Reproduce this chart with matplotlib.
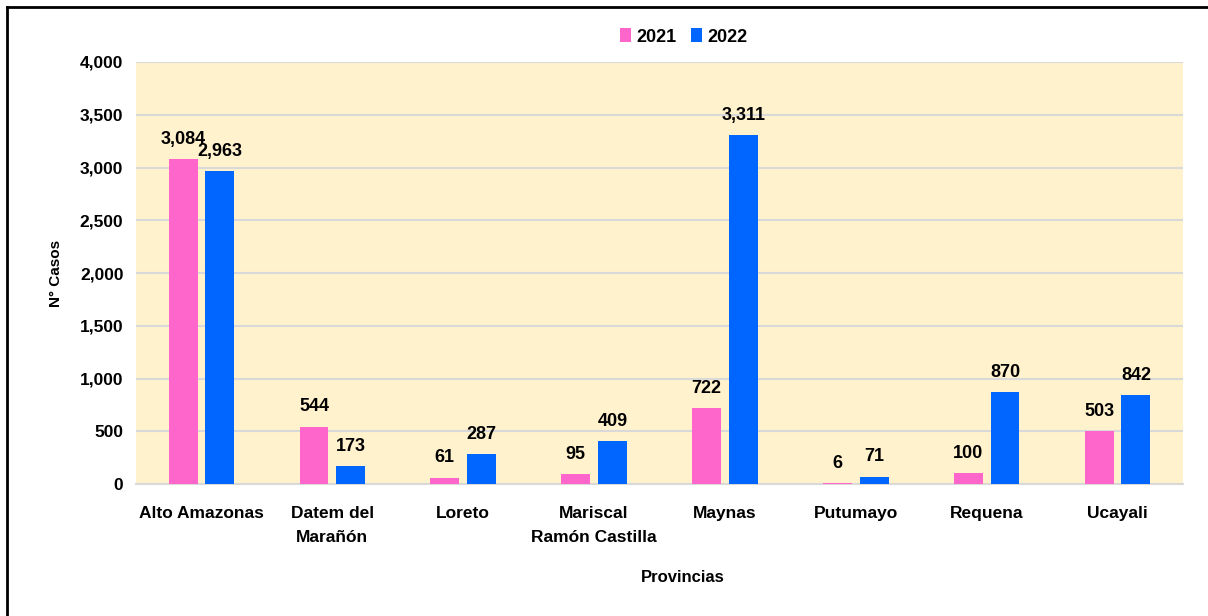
import numpy as np
import matplotlib.pyplot as plt
from matplotlib.ticker import FuncFormatter
from matplotlib.lines import Line2D

plt.rcParams['font.family'] = ['Liberation Sans', 'DejaVu Sans']
plt.rcParams['font.weight'] = 'bold'

provincias = ["Alto Amazonas", "Datem del\nMarañón", "Loreto", "Mariscal\nRamón Castilla",
              "Maynas", "Putumayo", "Requena", "Ucayali"]
casos_2021 = [3084, 544, 61, 95, 722, 6, 100, 503]
casos_2022 = [2963, 173, 287, 409, 3311, 71, 870, 842]
years = ["2021", "2022"]
colors = ["#FF66CC", "#0066FF"]

fig = plt.figure(figsize=(12.08, 6.16), dpi=100)
ax = fig.add_axes([136 / 1208, 1 - 484 / 616, 1047 / 1208, 422 / 616])
ax.set_facecolor("#FFF2CC")

x = np.arange(len(provincias))
w = 0.22
off = 0.14
for vals, col, lab, sgn in zip([casos_2021, casos_2022], colors, years, [-1, 1]):
    bars = ax.bar(x + sgn * off, vals, width=w, color=col, label=lab, zorder=3)
    for b, v in zip(bars, vals):
        ax.annotate(f"{v:,}", (b.get_x() + b.get_width() / 2, v), xytext=(0, 8),
                    textcoords="offset points", ha="center", va="bottom",
                    fontsize=13, fontweight="bold")

ax.set_xlim(-0.5, len(provincias) - 0.5)
ax.set_ylim(0, 4000)
ax.set_yticks(np.arange(0, 4001, 500))
ax.yaxis.set_major_formatter(FuncFormatter(lambda v, p: f"{int(v):,}"))
ax.grid(axis="y", color="#D9D9D9", linewidth=1.5, zorder=0)
ax.set_axisbelow(True)
for s in ["top", "right", "left"]:
    ax.spines[s].set_visible(False)
ax.spines["bottom"].set_color("#D9D9D9")
ax.spines["bottom"].set_linewidth(1.5)
ax.tick_params(axis="x", length=0, labelsize=12.5, pad=16)
ax.tick_params(axis="y", length=0, labelsize=12.5, pad=9)
ax.set_xticks(x)
ax.set_xticklabels(provincias, fontweight="bold", linespacing=1.7)
for t in ax.get_yticklabels():
    t.set_fontweight("bold")

ax.set_ylabel("N° Casos", fontsize=11, fontweight="bold", labelpad=12)
fig.text(683 / 1208, 1 - 578 / 616, "Provincias", ha="center", va="center",
         fontsize=12, fontweight="bold")

fig.legend(loc="center", bbox_to_anchor=(684 / 1208, 1 - 37 / 616), ncol=2, frameon=False,
           fontsize=13, handlelength=0.6, handleheight=0.8, handletextpad=0.3,
           columnspacing=0.8)

# marco del grafico (solo borde superior e izquierdo visibles)
fig.add_artist(Line2D([7 / 1208, 1], [1 - 7 / 616, 1 - 7 / 616], color="black", lw=2,
                      transform=fig.transFigure))
fig.add_artist(Line2D([7 / 1208, 7 / 1208], [1 - 7 / 616, 0], color="black", lw=2,
                      transform=fig.transFigure))

fig.savefig("out.png", dpi=100)
